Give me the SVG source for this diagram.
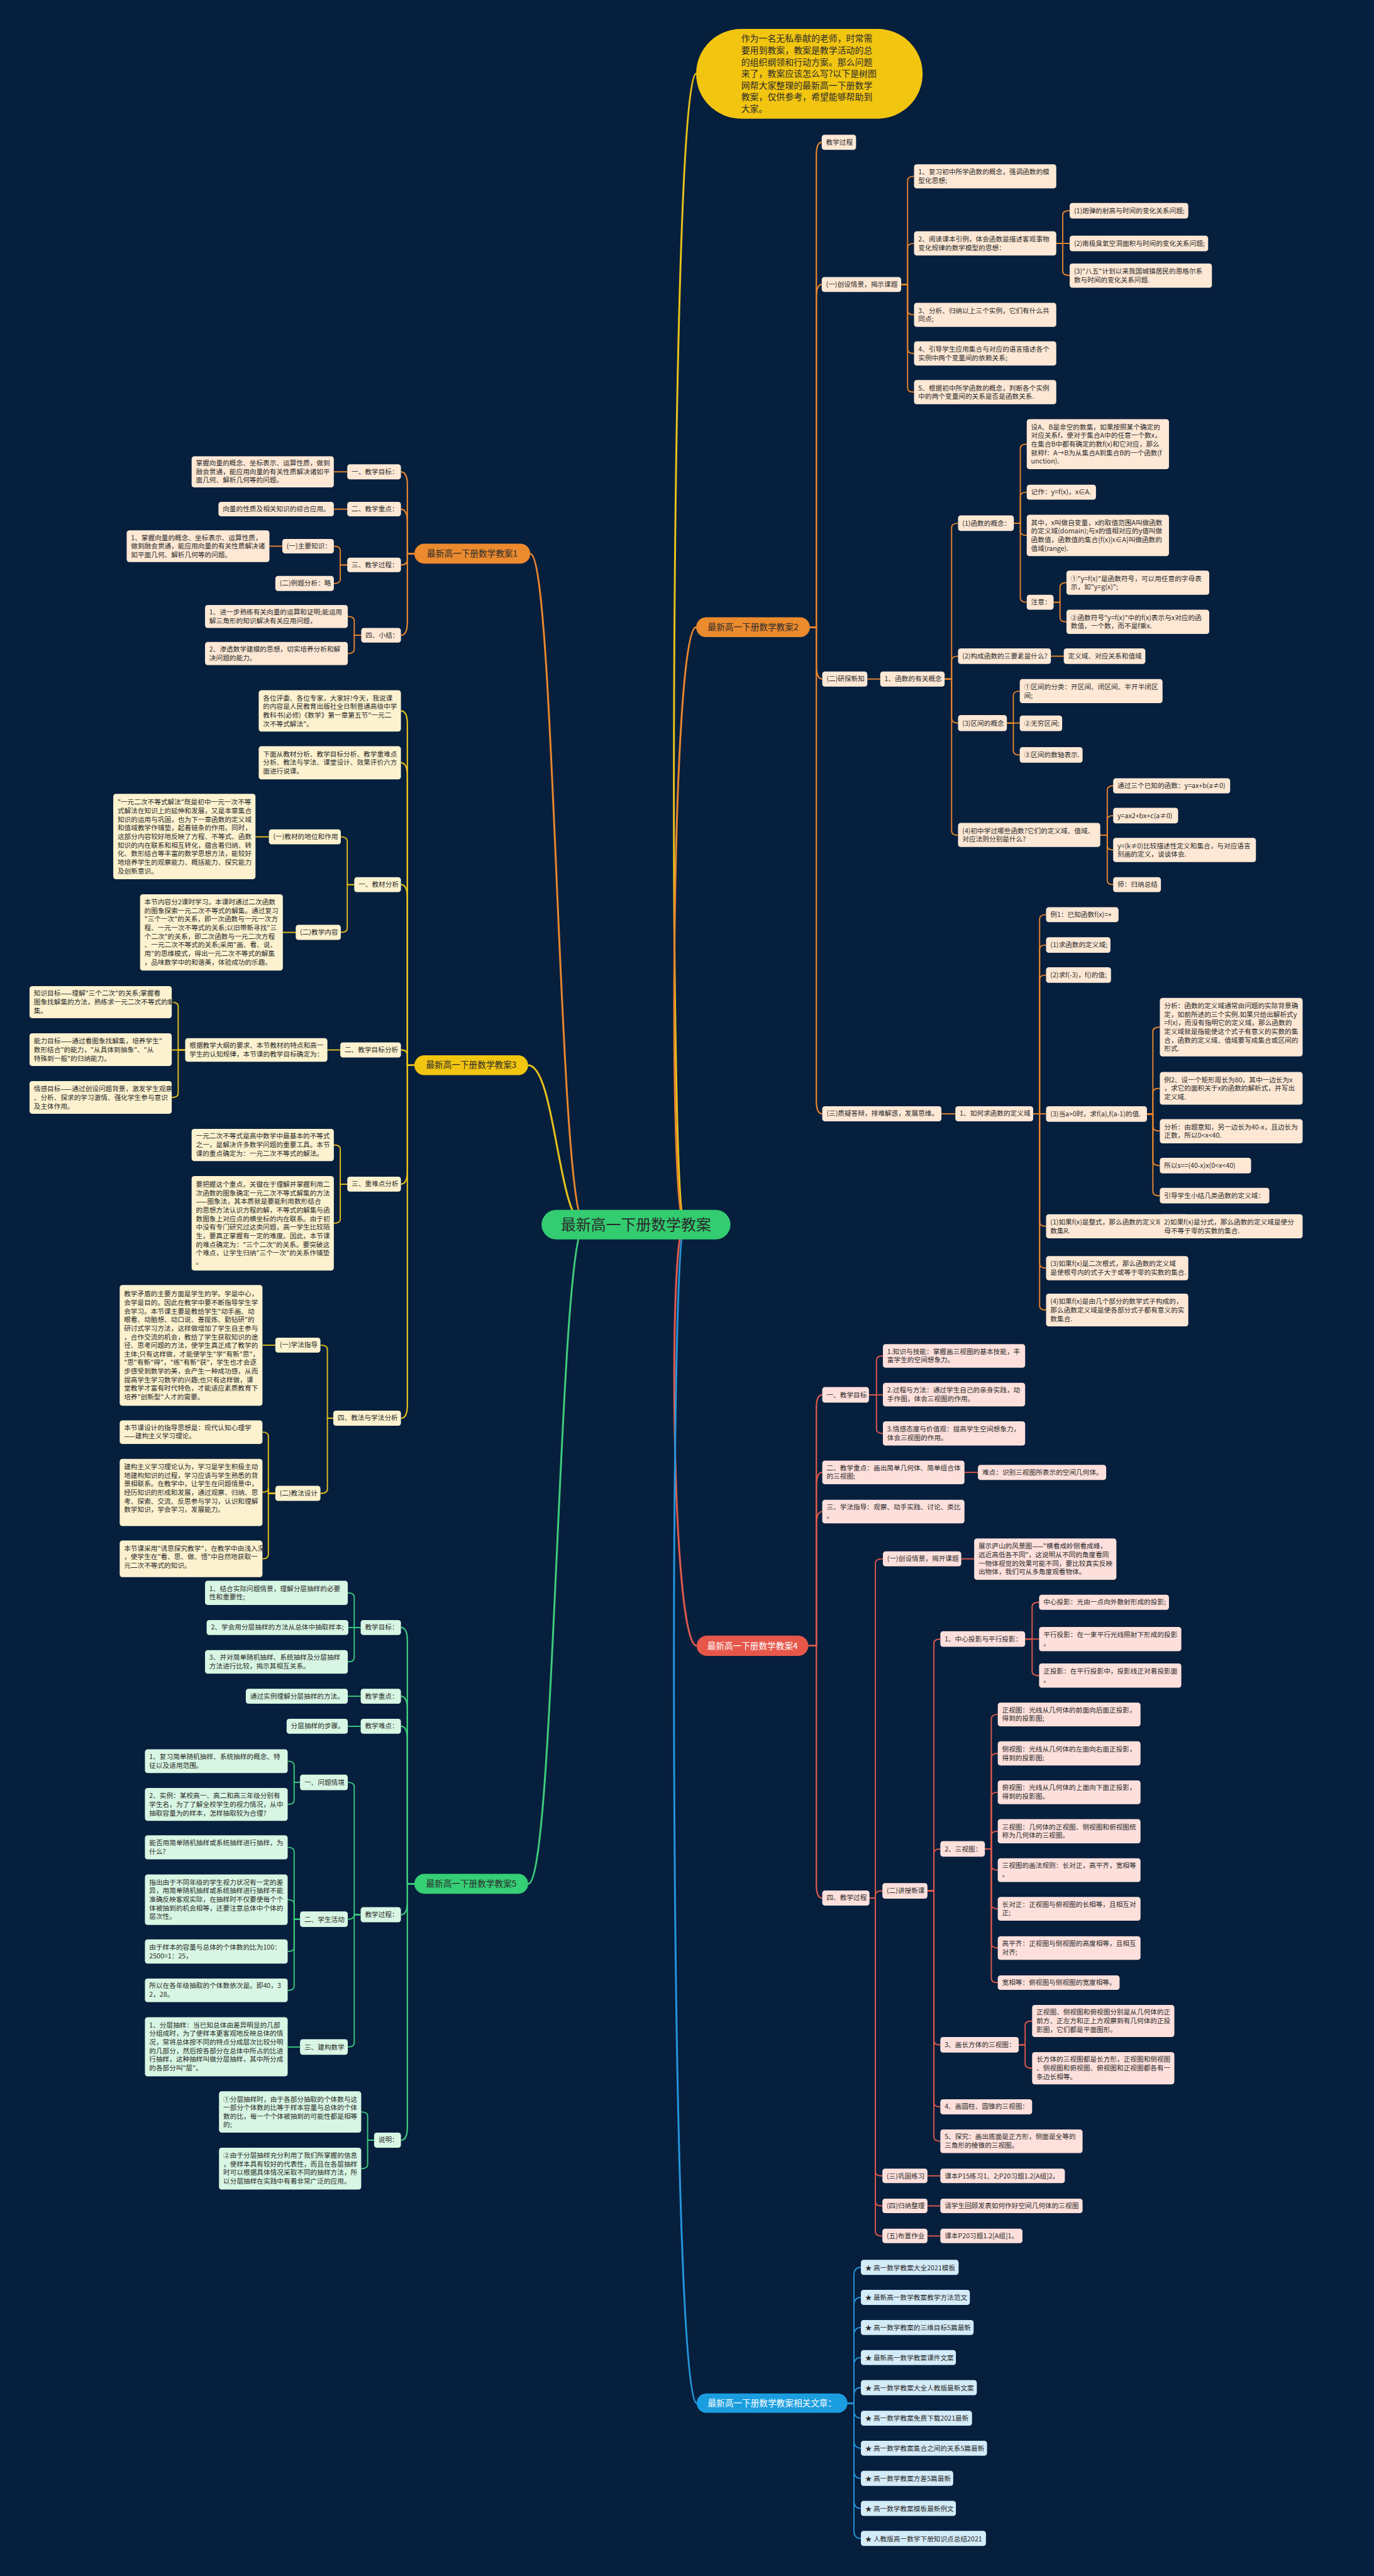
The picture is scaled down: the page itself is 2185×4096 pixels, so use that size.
<svg xmlns="http://www.w3.org/2000/svg" width="2185" height="4096" viewBox="0 0 2185 4096">
<style>
.t{font-family:"Noto Sans CJK SC","Liberation Sans",sans-serif;font-size:12.5px;fill:#2b2b2b}
.bt{font-family:"Noto Sans CJK SC","Liberation Sans",sans-serif;font-size:16px;text-anchor:middle;fill:#2b2b2b}
.wt{fill:#ffffff}
.o{fill:#fde8d5}
.y{fill:#fcf2cf}
.r{fill:#fde0dc}
.g{fill:#d8f6e3}
.b{fill:#d4ebf8}
path{fill:none;stroke-width:2.2}
.lo{stroke:#e8862d}
.ly{stroke:#e9c21a}
.lr{stroke:#e05a4b}
.lg{stroke:#3dcc7c}
.lb{stroke:#2496da}
.m{stroke-width:3.5}
.f{stroke-width:2.6}
</style>
<rect x="0" y="0" width="2185" height="4096" fill="#061f3d"/>
<g transform="scale(0.853516)">
<g id="connectors">
<path class="ly m" d="M1275 2281.5C1245 2281.5 1248 137.5 1297 137.5"/>
<path class="lo m" d="M1275 2281.5C1245 2281.5 1250 1168.5 1297 1168.5"/>
<path class="lr m" d="M1275 2281.5C1245 2281.5 1250 3066 1298 3066"/>
<path class="lb m" d="M1275 2281.5C1245 2281.5 1248 4477 1298 4477"/>
<path class="lo m" d="M1090 2281.5C1040 2281.5 1035 1031.5 988 1031.5"/>
<path class="ly m" d="M1090 2281.5C1040 2281.5 1035 1984.5 984 1984.5"/>
<path class="lg m" d="M1090 2281.5C1040 2281.5 1035 3509.5 984 3509.5"/>
<path class="lo f" d="M1509 1168.5H1521V290Q1521 265 1531 265"/>
<path class="lo f" d="M1509 1168.5H1521V555Q1521 530 1531 530"/>
<path class="lo f" d="M1509 1168.5H1521V1240Q1521 1265 1532 1265"/>
<path class="lo f" d="M1509 1168.5H1521V2050Q1521 2075 1532 2075"/>
<path class="lo" d="M1679 530H1691V336.5Q1691 328.5 1703 328.5"/>
<path class="lo" d="M1679 530H1691V461.5Q1691 453.5 1703 453.5"/>
<path class="lo" d="M1679 530H1691V578.5Q1691 586.5 1703 586.5"/>
<path class="lo" d="M1679 530H1691V650.5Q1691 658.5 1703 658.5"/>
<path class="lo" d="M1679 530H1691V722.5Q1691 730.5 1703 730.5"/>
<path class="lo" d="M1968 453.5H1980V400.5Q1980 392.5 1993 392.5"/>
<path class="lo" d="M1968 453.5H1993"/>
<path class="lo" d="M1968 453.5H1980V505Q1980 513 1993 513"/>
<path class="lo" d="M1616 1265H1640"/>
<path class="lo" d="M1760 1265H1773V983Q1773 975 1785 975"/>
<path class="lo" d="M1760 1265H1773V1230.5Q1773 1222.5 1785 1222.5"/>
<path class="lo" d="M1760 1265H1773V1339Q1773 1347 1785 1347"/>
<path class="lo" d="M1760 1265H1773V1548Q1773 1556 1785 1556"/>
<path class="lo" d="M1889 975H1901V835.5Q1901 827.5 1913 827.5"/>
<path class="lo" d="M1889 975H1901V925Q1901 917 1913 917"/>
<path class="lo" d="M1889 975H1901V989.5Q1901 997.5 1913 997.5"/>
<path class="lo" d="M1889 975H1901V1114Q1901 1122 1913 1122"/>
<path class="lo" d="M1963 1122H1975V1093.5Q1975 1085.5 1987 1085.5"/>
<path class="lo" d="M1963 1122H1975V1150.5Q1975 1158.5 1987 1158.5"/>
<path class="lo" d="M1958 1222.5H1982"/>
<path class="lo" d="M1876 1347H1888V1295.5Q1888 1287.5 1900 1287.5"/>
<path class="lo" d="M1876 1347H1900"/>
<path class="lo" d="M1876 1347H1888V1398.5Q1888 1406.5 1900 1406.5"/>
<path class="lo" d="M2050 1556H2063V1472Q2063 1464 2074 1464"/>
<path class="lo" d="M2050 1556H2063V1527.5Q2063 1519.5 2074 1519.5"/>
<path class="lo" d="M2050 1556H2063V1575.5Q2063 1583.5 2074 1583.5"/>
<path class="lo" d="M2050 1556H2063V1640Q2063 1648 2074 1648"/>
<path class="lo" d="M1754 2075H1780"/>
<path class="lo" d="M1925 2075H1937V1712Q1937 1704 1949 1704"/>
<path class="lo" d="M1925 2075H1937V1768.5Q1937 1760.5 1949 1760.5"/>
<path class="lo" d="M1925 2075H1937V1824.5Q1937 1816.5 1949 1816.5"/>
<path class="lo" d="M1925 2075H1949"/>
<path class="lo" d="M1925 2075H1937V2276.5Q1937 2284.5 1949 2284.5"/>
<path class="lo" d="M1925 2075H1937V2354.5Q1937 2362.5 1949 2362.5"/>
<path class="lo" d="M1925 2075H1937V2432.5Q1937 2440.5 1949 2440.5"/>
<path class="lo" d="M2214 2284.5H2161"/>
<path class="lo" d="M2137 2075.5H2148V1921.5Q2148 1913.5 2161 1913.5"/>
<path class="lo" d="M2137 2075.5H2148V2035.5Q2148 2027.5 2161 2027.5"/>
<path class="lo" d="M2137 2075.5H2148V2099Q2148 2107 2161 2107"/>
<path class="lo" d="M2137 2075.5H2148V2163.5Q2148 2171.5 2161 2171.5"/>
<path class="lo" d="M2137 2075.5H2148V2219.5Q2148 2227.5 2161 2227.5"/>
<path class="lo f" d="M772 1031.5H759V904Q759 879 747 879"/>
<path class="lo f" d="M772 1031.5H759V973.5Q759 948.5 747 948.5"/>
<path class="lo f" d="M772 1031.5H759V1042.5Q759 1052.5 747 1052.5"/>
<path class="lo f" d="M772 1031.5H759V1158.5Q759 1183.5 747 1183.5"/>
<path class="lo" d="M647 879H622"/>
<path class="lo" d="M647 948.5H622"/>
<path class="lo" d="M647 1052.5H634V1025.5Q634 1017.5 622 1017.5"/>
<path class="lo" d="M647 1052.5H634V1079Q634 1087 622 1087"/>
<path class="lo" d="M526 1017.5H502"/>
<path class="lo" d="M673 1183.5H660V1156.5Q660 1148.5 648 1148.5"/>
<path class="lo" d="M673 1183.5H660V1209.5Q660 1217.5 648 1217.5"/>
<path class="ly f" d="M772 1984.5H759V1349.5Q759 1324.5 747 1324.5"/>
<path class="ly f" d="M772 1984.5H759V1446Q759 1421 747 1421"/>
<path class="ly f" d="M772 1984.5H759V1673Q759 1648 747 1648"/>
<path class="ly f" d="M772 1984.5H759V1966Q759 1956 747 1956"/>
<path class="ly f" d="M772 1984.5H759V2181Q759 2206 747 2206"/>
<path class="ly f" d="M772 1984.5H759V2617Q759 2642 747 2642"/>
<path class="ly" d="M660 1648H647V1567Q647 1559 635 1559"/>
<path class="ly" d="M660 1648H647V1729Q647 1737 635 1737"/>
<path class="ly" d="M501 1559H476"/>
<path class="ly" d="M551 1737H527"/>
<path class="ly" d="M634 1956H610"/>
<path class="ly" d="M345 1956H332V1875Q332 1867 320 1867"/>
<path class="ly" d="M345 1956H320"/>
<path class="ly" d="M345 1956H332V2036.5Q332 2044.5 320 2044.5"/>
<path class="ly" d="M647 2206H634V2141Q634 2133 622 2133"/>
<path class="ly" d="M647 2206H634V2271Q634 2279 622 2279"/>
<path class="ly" d="M621 2642H610V2514Q610 2506 597 2506"/>
<path class="ly" d="M621 2642H610V2774Q610 2782 597 2782"/>
<path class="ly" d="M513 2506H489"/>
<path class="ly" d="M513 2782H500V2676Q500 2668 489 2668"/>
<path class="ly" d="M513 2782H500V2772Q500 2780 489 2780"/>
<path class="ly" d="M513 2782H500V2896Q500 2904 489 2904"/>
<path class="lr f" d="M1506 3066H1521V2623.5Q1521 2598.5 1532 2598.5"/>
<path class="lr f" d="M1506 3066H1521V2768Q1521 2743 1532 2743"/>
<path class="lr f" d="M1506 3066H1521V2841Q1521 2816 1532 2816"/>
<path class="lr f" d="M1506 3066H1521V3511Q1521 3536 1532 3536"/>
<path class="lr" d="M1619 2598.5H1633V2534Q1633 2526 1645 2526"/>
<path class="lr" d="M1619 2598.5H1645"/>
<path class="lr" d="M1619 2598.5H1633V2662.5Q1633 2670.5 1645 2670.5"/>
<path class="lr" d="M1797 2743H1822"/>
<path class="lr" d="M1620 3536H1631V2912Q1631 2904 1645 2904"/>
<path class="lr" d="M1620 3536H1631V3530.5Q1631 3522.5 1644 3522.5"/>
<path class="lr" d="M1620 3536H1631V4045.5Q1631 4053.5 1644 4053.5"/>
<path class="lr" d="M1620 3536H1631V4101.5Q1631 4109.5 1644 4109.5"/>
<path class="lr" d="M1620 3536H1631V4157.5Q1631 4165.5 1644 4165.5"/>
<path class="lr" d="M1791 2904H1815"/>
<path class="lr" d="M1728 3522.5H1740V3061.5Q1740 3053.5 1752 3053.5"/>
<path class="lr" d="M1728 3522.5H1740V3452.5Q1740 3444.5 1752 3444.5"/>
<path class="lr" d="M1728 3522.5H1740V3801.5Q1740 3809.5 1752 3809.5"/>
<path class="lr" d="M1728 3522.5H1740V3917Q1740 3925 1752 3925"/>
<path class="lr" d="M1728 3522.5H1740V3981Q1740 3989 1752 3989"/>
<path class="lr" d="M1910 3053.5H1923V2993Q1923 2985 1936 2985"/>
<path class="lr" d="M1910 3053.5H1936"/>
<path class="lr" d="M1910 3053.5H1923V3113.5Q1923 3121.5 1936 3121.5"/>
<path class="lr" d="M1835 3444.5H1847V3202Q1847 3194 1859 3194"/>
<path class="lr" d="M1835 3444.5H1847V3274.5Q1847 3266.5 1859 3266.5"/>
<path class="lr" d="M1835 3444.5H1847V3347Q1847 3339 1859 3339"/>
<path class="lr" d="M1835 3444.5H1847V3419.5Q1847 3411.5 1859 3411.5"/>
<path class="lr" d="M1835 3444.5H1847V3476Q1847 3484 1859 3484"/>
<path class="lr" d="M1835 3444.5H1847V3548Q1847 3556 1859 3556"/>
<path class="lr" d="M1835 3444.5H1847V3621Q1847 3629 1859 3629"/>
<path class="lr" d="M1835 3444.5H1847V3685.5Q1847 3693.5 1859 3693.5"/>
<path class="lr" d="M1898 3809.5H1910V3773Q1910 3765 1923 3765"/>
<path class="lr" d="M1898 3809.5H1910V3845Q1910 3853 1923 3853"/>
<path class="lr" d="M1728 4053.5H1752"/>
<path class="lr" d="M1728 4109.5H1752"/>
<path class="lr" d="M1728 4165.5H1752"/>
<path class="lg f" d="M772 3509.5H759V3057Q759 3032 747 3032"/>
<path class="lg f" d="M772 3509.5H759V3185Q759 3160 747 3160"/>
<path class="lg f" d="M772 3509.5H759V3241Q759 3216 747 3216"/>
<path class="lg f" d="M772 3509.5H759V3542Q759 3567 747 3567"/>
<path class="lg f" d="M772 3509.5H759V3962Q759 3987 747 3987"/>
<path class="lg" d="M672 3032H660V2975.5Q660 2967.5 648 2967.5"/>
<path class="lg" d="M672 3032H649"/>
<path class="lg" d="M672 3032H660V3088Q660 3096 648 3096"/>
<path class="lg" d="M672 3160H648"/>
<path class="lg" d="M672 3216H648"/>
<path class="lg" d="M672 3567H660V3328.5Q660 3320.5 648 3320.5"/>
<path class="lg" d="M672 3567H660Q660 3575.5 648 3575.5"/>
<path class="lg" d="M672 3567H660V3805.5Q660 3813.5 648 3813.5"/>
<path class="lg" d="M559 3320.5H548V3289Q548 3281 536 3281"/>
<path class="lg" d="M559 3320.5H548V3353.5Q548 3361.5 536 3361.5"/>
<path class="lg" d="M559 3575.5H548V3449.5Q548 3441.5 536 3441.5"/>
<path class="lg" d="M559 3575.5H548V3547Q548 3539 536 3539"/>
<path class="lg" d="M559 3575.5H548V3627.5Q548 3635.5 536 3635.5"/>
<path class="lg" d="M559 3575.5H548V3700Q548 3708 536 3708"/>
<path class="lg" d="M559 3813.5H536"/>
<path class="lg" d="M697 3987H685V3942.5Q685 3934.5 673 3934.5"/>
<path class="lg" d="M697 3987H685V4032Q685 4040 673 4040"/>
<path class="lb" d="M1579 4477H1591V4239Q1591 4224 1604 4224"/>
<path class="lb" d="M1579 4477H1591V4295Q1591 4280 1604 4280"/>
<path class="lb" d="M1579 4477H1591V4351Q1591 4336 1604 4336"/>
<path class="lb" d="M1579 4477H1591V4407Q1591 4392 1604 4392"/>
<path class="lb" d="M1579 4477H1591V4463Q1591 4448 1604 4448"/>
<path class="lb" d="M1579 4477H1591V4490Q1591 4505 1604 4505"/>
<path class="lb" d="M1579 4477H1591V4546Q1591 4561 1604 4561"/>
<path class="lb" d="M1579 4477H1591V4602Q1591 4617 1604 4617"/>
<path class="lb" d="M1579 4477H1591V4658Q1591 4673 1604 4673"/>
<path class="lb" d="M1579 4477H1591V4714Q1591 4729 1604 4729"/>
</g>

<g id="intro"><rect x="1297" y="54" width="422" height="167" rx="83.5" fill="#f2c511"/>
<text class="t" style="font-size:16.3px"><tspan x="1381" y="77.8">作为一名无私奉献的老师，时常需</tspan><tspan x="1381" y="99.6">要用到教案，教案是教学活动的总</tspan><tspan x="1381" y="121.4">的组织纲领和行动方案。那么问题</tspan><tspan x="1381" y="143.2">来了，教案应该怎么写?以下是树图</tspan><tspan x="1381" y="165">网帮大家整理的最新高一下册数学</tspan><tspan x="1381" y="186.8">教案，仅供参考，希望能够帮助到</tspan><tspan x="1381" y="208.6">大家。</tspan></text></g>
<g id="center"><rect x="1009" y="2254" width="352" height="55" rx="27.5" fill="#33cc70"/><text class="bt" style="font-size:28px" x="1185" y="2291.5">最新高一下册数学教案</text></g>
<g id="b1"><rect x="772" y="1013" width="216" height="37" rx="18.5" fill="#ec8a2e"/><text class="bt" x="880" y="1037">最新高一下册数学教案1</text></g>
<g id="b2"><rect x="1297" y="1150" width="212" height="37" rx="18.5" fill="#ec8a2e"/><text class="bt" x="1403" y="1174">最新高一下册数学教案2</text></g>
<g id="b3"><rect x="772" y="1966" width="212" height="37" rx="18.5" fill="#f2c511"/><text class="bt" x="878" y="1990">最新高一下册数学教案3</text></g>
<g id="b4"><rect x="1298" y="3047" width="208" height="38" rx="19" fill="#e6574a"/><text class="bt wt" x="1402" y="3071.6">最新高一下册数学教案4</text></g>
<g id="b5"><rect x="772" y="3491" width="212" height="37" rx="18.5" fill="#35cf76"/><text class="bt" x="878" y="3515">最新高一下册数学教案5</text></g>
<g id="b6"><rect x="1298" y="4459" width="281" height="36" rx="18" fill="#1a9ee0"/><text class="bt wt" x="1438.5" y="4482.6">最新高一下册数学教案相关文章：</text></g>

<g id="s2a"><rect class="o" x="1531" y="251" width="64" height="28" rx="5"/><text class="t" x="1539" y="269">教学过程</text></g>
<g id="s2b"><rect class="o" x="1531" y="516" width="148" height="28" rx="5"/><text class="t" x="1539" y="534">(一)创设情景，揭示课题</text></g>
<g id="s2b1"><rect class="o" x="1703" y="306" width="265" height="45" rx="5"/><text class="t"><tspan x="1711" y="325">1、复习初中所学函数的概念，强调函数的模</tspan><tspan x="1711" y="341">型化思想;</tspan></text></g>
<g id="s2b2"><rect class="o" x="1703" y="431" width="265" height="45" rx="5"/><text class="t"><tspan x="1711" y="450">2、阅读课本引例，体会函数是描述客观事物</tspan><tspan x="1711" y="466">变化规律的数学模型的思想：</tspan></text></g>
<g id="s2b3"><rect class="o" x="1703" y="564" width="265" height="45" rx="5"/><text class="t"><tspan x="1711" y="583">3、分析、归纳以上三个实例，它们有什么共</tspan><tspan x="1711" y="599">同点;</tspan></text></g>
<g id="s2b4"><rect class="o" x="1703" y="636" width="265" height="45" rx="5"/><text class="t"><tspan x="1711" y="655">4、引导学生应用集合与对应的语言描述各个</tspan><tspan x="1711" y="671">实例中两个变量间的依赖关系;</tspan></text></g>
<g id="s2b5"><rect class="o" x="1703" y="708" width="265" height="45" rx="5"/><text class="t"><tspan x="1711" y="727">5、根据初中所学函数的概念，判断各个实例</tspan><tspan x="1711" y="743">中的两个变量间的关系是否是函数关系.</tspan></text></g>
<g id="s2b2a"><rect class="o" x="1993" y="378" width="221" height="29" rx="5"/><text class="t" x="2001" y="397">(1)炮弹的射高与时间的变化关系问题;</text></g>
<g id="s2b2b"><rect class="o" x="1993" y="439" width="258" height="29" rx="5"/><text class="t" x="2001" y="458">(2)南极臭氧空洞面积与时间的变化关系问题;</text></g>
<g id="s2b2c"><rect class="o" x="1993" y="491" width="265" height="45" rx="5"/><text class="t"><tspan x="2001" y="510">(3)"八五"计划以来我国城镇居民的恩格尔系</tspan><tspan x="2001" y="526">数与时间的变化关系问题.</tspan></text></g>
<g id="s2c"><rect class="o" x="1532" y="1251" width="84" height="28" rx="5"/><text class="t" x="1540" y="1269">(二)研探新知</text></g>
<g id="s2c1"><rect class="o" x="1640" y="1251" width="120" height="28" rx="5"/><text class="t" x="1648" y="1269">1、函数的有关概念</text></g>
<g id="s2c1a"><rect class="o" x="1785" y="960" width="104" height="29" rx="5"/><text class="t" x="1793" y="979">(1)函数的概念：</text></g>
<g id="s2c1a1"><rect class="o" x="1913" y="781" width="265" height="93" rx="5"/><text class="t"><tspan x="1921" y="800">设A、B是非空的数集，如果按照某个确定的</tspan><tspan x="1921" y="816">对应关系f，使对于集合A中的任意一个数x，</tspan><tspan x="1921" y="832">在集合B中都有确定的数f(x)和它对应，那么</tspan><tspan x="1921" y="848">就称f：A→B为从集合A到集合B的一个函数(f</tspan><tspan x="1921" y="864">unction).</tspan></text></g>
<g id="s2c1a2"><rect class="o" x="1913" y="903" width="129" height="28" rx="5"/><text class="t" x="1921" y="921">记作：y=f(x)，x∈A.</text></g>
<g id="s2c1a3"><rect class="o" x="1913" y="959" width="265" height="77" rx="5"/><text class="t"><tspan x="1921" y="978">其中，x叫做自变量，x的取值范围A叫做函数</tspan><tspan x="1921" y="994">的定义域(domain);与x的值相对应的y值叫做</tspan><tspan x="1921" y="1010">函数值，函数值的集合{f(x)|x∈A}叫做函数的</tspan><tspan x="1921" y="1026">值域(range).</tspan></text></g>
<g id="s2c1a4"><rect class="o" x="1913" y="1108" width="50" height="28" rx="5"/><text class="t" x="1921" y="1126">注意：</text></g>
<g id="s2c1a4a"><rect class="o" x="1987" y="1063" width="266" height="45" rx="5"/><text class="t"><tspan x="1995" y="1082">①"y=f(x)"是函数符号，可以用任意的字母表</tspan><tspan x="1995" y="1098">示，如"y=g(x)";</tspan></text></g>
<g id="s2c1a4b"><rect class="o" x="1987" y="1136" width="266" height="45" rx="5"/><text class="t"><tspan x="1995" y="1155">②函数符号"y=f(x)"中的f(x)表示与x对应的函</tspan><tspan x="1995" y="1171">数值，一个数，而不是f乘x.</tspan></text></g>
<g id="s2c1b"><rect class="o" x="1785" y="1208" width="173" height="29" rx="5"/><text class="t" x="1793" y="1227">(2)构成函数的三要素是什么?</text></g>
<g id="s2c1b1"><rect class="o" x="1982" y="1208" width="152" height="29" rx="5"/><text class="t" x="1990" y="1227">定义域、对应关系和值域</text></g>
<g id="s2c1c"><rect class="o" x="1785" y="1332" width="91" height="30" rx="5"/><text class="t" x="1793" y="1351.5">(3)区间的概念</text></g>
<g id="s2c1c1"><rect class="o" x="1900" y="1265" width="266" height="45" rx="5"/><text class="t"><tspan x="1908" y="1284">①区间的分类：开区间、闭区间、半开半闭区</tspan><tspan x="1908" y="1300">间;</tspan></text></g>
<g id="s2c1c2"><rect class="o" x="1900" y="1333" width="79" height="29" rx="5"/><text class="t" x="1908" y="1352">②无穷区间;</text></g>
<g id="s2c1c3"><rect class="o" x="1900" y="1392" width="117" height="29" rx="5"/><text class="t" x="1908" y="1411">③区间的数轴表示.</text></g>
<g id="s2c1d"><rect class="o" x="1785" y="1533" width="265" height="45" rx="5"/><text class="t"><tspan x="1793" y="1552">(4)初中学过哪些函数?它们的定义域、值域、</tspan><tspan x="1793" y="1568">对应法则分别是什么?</tspan></text></g>
<g id="s2c1d1"><rect class="o" x="2074" y="1450" width="218" height="28" rx="5"/><text class="t" x="2082" y="1468">通过三个已知的函数：y=ax+b(a≠0)</text></g>
<g id="s2c1d2"><rect class="o" x="2074" y="1505" width="121" height="29" rx="5"/><text class="t" x="2082" y="1524">y=ax2+bx+c(a≠0)</text></g>
<g id="s2c1d3"><rect class="o" x="2074" y="1561" width="266" height="45" rx="5"/><text class="t"><tspan x="2082" y="1580">y=(k≠0)比较描述性定义和集合，与对应语言</tspan><tspan x="2082" y="1596">刻画的定义，谈谈体会.</tspan></text></g>
<g id="s2c1d4"><rect class="o" x="2074" y="1634" width="89" height="28" rx="5"/><text class="t" x="2082" y="1652">师：归纳总结</text></g>
<g id="s2d"><rect class="o" x="1532" y="2061" width="222" height="28" rx="5"/><text class="t" x="1540" y="2079">(三)质疑答辩，排难解惑，发展思维。</text></g>
<g id="s2d1"><rect class="o" x="1780" y="2061" width="145" height="28" rx="5"/><text class="t" x="1788" y="2079">1、如何求函数的定义域</text></g>
<g id="s2d1a"><rect class="o" x="1949" y="1690" width="135" height="28" rx="5"/><text class="t" x="1957" y="1708">例1：已知函数f(x)=+</text></g>
<g id="s2d1b"><rect class="o" x="1949" y="1746" width="120" height="29" rx="5"/><text class="t" x="1957" y="1765">(1)求函数的定义域;</text></g>
<g id="s2d1c"><rect class="o" x="1949" y="1802" width="121" height="29" rx="5"/><text class="t" x="1957" y="1821">(2)求f(-3)，f()的值;</text></g>
<g id="s2d1d"><rect class="o" x="1949" y="2061" width="188" height="29" rx="5"/><text class="t" x="1957" y="2080">(3)当a&gt;0时，求f(a),f(a-1)的值.</text></g>
<g id="s2d1d1"><rect class="o" x="2161" y="1859" width="266" height="109" rx="5"/><text class="t"><tspan x="2169" y="1878">分析：函数的定义域通常由问题的实际背景确</tspan><tspan x="2169" y="1894">定，如前所述的三个实例.如果只给出解析式y</tspan><tspan x="2169" y="1910">=f(x)，而没有指明它的定义域，那么函数的</tspan><tspan x="2169" y="1926">定义域就是指能使这个式子有意义的实数的集</tspan><tspan x="2169" y="1942">合，函数的定义域、值域要写成集合或区间的</tspan><tspan x="2169" y="1958">形式.</tspan></text></g>
<g id="s2d1d2"><rect class="o" x="2161" y="1997" width="266" height="61" rx="5"/><text class="t"><tspan x="2169" y="2016">例2、设一个矩形周长为80，其中一边长为x</tspan><tspan x="2169" y="2032">，求它的面积关于x的函数的解析式，并写出</tspan><tspan x="2169" y="2048">定义域.</tspan></text></g>
<g id="s2d1d3"><rect class="o" x="2161" y="2085" width="266" height="45" rx="5"/><text class="t"><tspan x="2169" y="2104">分析：由题意知，另一边长为40-x，且边长为</tspan><tspan x="2169" y="2120">正数，所以0&lt;x&lt;40.</tspan></text></g>
<g id="s2d1d4"><rect class="o" x="2161" y="2157" width="170" height="29" rx="5"/><text class="t" x="2169" y="2176">所以s==(40-x)x(0&lt;x&lt;40)</text></g>
<g id="s2d1d5"><rect class="o" x="2161" y="2213" width="204" height="29" rx="5"/><text class="t" x="2169" y="2232">引导学生小结几类函数的定义域：</text></g>
<g id="s2d1e"><rect class="o" x="1949" y="2262" width="265" height="45" rx="5"/><text class="t"><tspan x="1957" y="2281">(1)如果f(x)是整式，那么函数的定义域是实</tspan><tspan x="1957" y="2297">数集R.</tspan></text></g>
<g id="s2d1e1"><rect class="o" x="2161" y="2262" width="266" height="45" rx="5"/><text class="t"><tspan x="2169" y="2281">2)如果f(x)是分式，那么函数的定义域是使分</tspan><tspan x="2169" y="2297">母不等于零的实数的集合.</tspan></text></g>
<g id="s2d1f"><rect class="o" x="1949" y="2340" width="265" height="45" rx="5"/><text class="t"><tspan x="1957" y="2359">(3)如果f(x)是二次根式，那么函数的定义域</tspan><tspan x="1957" y="2375">是使根号内的式子大于或等于零的实数的集合.</tspan></text></g>
<g id="s2d1g"><rect class="o" x="1949" y="2410" width="265" height="61" rx="5"/><text class="t"><tspan x="1957" y="2429">(4)如果f(x)是由几个部分的数学式子构成的，</tspan><tspan x="1957" y="2445">那么函数定义域是使各部分式子都有意义的实</tspan><tspan x="1957" y="2461">数集合.</tspan></text></g>

<g id="s1a"><rect class="o" x="647" y="865" width="100" height="28" rx="5"/><text class="t" x="655" y="883">一、教学目标：</text></g>
<g id="s1b"><rect class="o" x="647" y="935" width="100" height="27" rx="5"/><text class="t" x="655" y="953">二、教学重点：</text></g>
<g id="s1c"><rect class="o" x="647" y="1039" width="100" height="27" rx="5"/><text class="t" x="655" y="1057">三、教学过程：</text></g>
<g id="s1d"><rect class="o" x="673" y="1170" width="74" height="27" rx="5"/><text class="t" x="681" y="1188">四、小结：</text></g>
<g id="s1a1"><rect class="o" x="357" y="850" width="265" height="58" rx="5"/><text class="t"><tspan x="365" y="867">掌握向量的概念、坐标表示、运算性质，做到</tspan><tspan x="365" y="883">融会贯通，能应用向量的有关性质解决诸如平</tspan><tspan x="365" y="899">面几何、解析几何等的问题。</tspan></text></g>
<g id="s1b1"><rect class="o" x="407" y="935" width="215" height="27" rx="5"/><text class="t" x="415" y="953">向量的性质及相关知识的综合应用。</text></g>
<g id="s1c1"><rect class="o" x="526" y="1004" width="96" height="27" rx="5"/><text class="t" x="534" y="1022">(一)主要知识：</text></g>
<g id="s1c1a"><rect class="o" x="236" y="988" width="266" height="59" rx="5"/><text class="t"><tspan x="244" y="1006">1、掌握向量的概念、坐标表示、运算性质，</tspan><tspan x="244" y="1022">做到融会贯通，能应用向量的有关性质解决诸</tspan><tspan x="244" y="1038">如平面几何、解析几何等的问题。</tspan></text></g>
<g id="s1c2"><rect class="o" x="513" y="1073" width="109" height="28" rx="5"/><text class="t" x="521" y="1091">(二)例题分析：略</text></g>
<g id="s1d1"><rect class="o" x="382" y="1127" width="266" height="43" rx="5"/><text class="t"><tspan x="390" y="1145">1、进一步熟练有关向量的运算和证明;能运用</tspan><tspan x="390" y="1161">解三角形的知识解决有关应用问题，</tspan></text></g>
<g id="s1d2"><rect class="o" x="382" y="1196" width="266" height="43" rx="5"/><text class="t"><tspan x="390" y="1214">2、渗透数学建模的思想，切实培养分析和解</tspan><tspan x="390" y="1230">决问题的能力。</tspan></text></g>

<g id="s3a"><rect class="y" x="482" y="1286" width="265" height="77" rx="5"/><text class="t"><tspan x="490" y="1305">各位评委、各位专家，大家好!今天，我说课</tspan><tspan x="490" y="1321">的内容是人民教育出版社全日制普通高级中学</tspan><tspan x="490" y="1337">教科书(必修)《数学》第一章第五节"一元二</tspan><tspan x="490" y="1353">次不等式解法"。</tspan></text></g>
<g id="s3b"><rect class="y" x="482" y="1390" width="265" height="62" rx="5"/><text class="t"><tspan x="490" y="1409">下面从教材分析、教学目标分析、教学重难点</tspan><tspan x="490" y="1425">分析、教法与学法、课堂设计、效果评价六方</tspan><tspan x="490" y="1441">面进行说课。</tspan></text></g>
<g id="s3c"><rect class="y" x="660" y="1634" width="87" height="28" rx="5"/><text class="t" x="668" y="1652">一、教材分析</text></g>
<g id="s3c1"><rect class="y" x="501" y="1545" width="134" height="28" rx="5"/><text class="t" x="509" y="1563">(一)教材的地位和作用</text></g>
<g id="s3c1a"><rect class="y" x="211" y="1479" width="265" height="159" rx="5"/><text class="t"><tspan x="219" y="1499">"一元二次不等式解法"既是初中一元一次不等</tspan><tspan x="219" y="1515">式解法在知识上的延伸和发展，又是本章集合</tspan><tspan x="219" y="1531">知识的运用与巩固，也为下一章函数的定义域</tspan><tspan x="219" y="1547">和值域教学作铺垫，起着链条的作用。同时，</tspan><tspan x="219" y="1563">这部分内容较好地反映了方程、不等式、函数</tspan><tspan x="219" y="1579">知识的内在联系和相互转化，蕴含着归纳、转</tspan><tspan x="219" y="1595">化、数形结合等丰富的数学思想方法，能较好</tspan><tspan x="219" y="1611">地培养学生的观察能力、概括能力、探究能力</tspan><tspan x="219" y="1627">及创新意识。</tspan></text></g>
<g id="s3c2"><rect class="y" x="551" y="1723" width="84" height="28" rx="5"/><text class="t" x="559" y="1741">(二)教学内容</text></g>
<g id="s3c2a"><rect class="y" x="261" y="1666" width="266" height="142" rx="5"/><text class="t"><tspan x="269" y="1685">本节内容分2课时学习。本课时通过二次函数</tspan><tspan x="269" y="1701">的图象探索一元二次不等式的解集。通过复习</tspan><tspan x="269" y="1717">"三个一次"的关系，即一次函数与一元一次方</tspan><tspan x="269" y="1733">程、一元一次不等式的关系;以旧带新寻找"三</tspan><tspan x="269" y="1749">个二次"的关系，即二次函数与一元二次方程</tspan><tspan x="269" y="1765">、一元二次不等式的关系;采用"画、看、说、</tspan><tspan x="269" y="1781">用"的思维模式，得出一元二次不等式的解集</tspan><tspan x="269" y="1797">，品味数学中的和谐美，体验成功的乐趣。</tspan></text></g>
<g id="s3d"><rect class="y" x="634" y="1942" width="113" height="28" rx="5"/><text class="t" x="642" y="1960">二、教学目标分析</text></g>
<g id="s3d1"><rect class="y" x="345" y="1934" width="265" height="44" rx="5"/><text class="t"><tspan x="353" y="1952">根据教学大纲的要求、本节教材的特点和高一</tspan><tspan x="353" y="1968">学生的认知规律，本节课的教学目标确定为：</tspan></text></g>
<g id="s3d1a"><rect class="y" x="55" y="1837" width="265" height="60" rx="5"/><text class="t"><tspan x="63" y="1855">知识目标——理解"三个二次"的关系;掌握看</tspan><tspan x="63" y="1871">图象找解集的方法，熟练求一元二次不等式的解</tspan><tspan x="63" y="1887">集。</tspan></text></g>
<g id="s3d1b"><rect class="y" x="55" y="1925" width="265" height="61" rx="5"/><text class="t"><tspan x="63" y="1944">能力目标——通过看图象找解集，培养学生"</tspan><tspan x="63" y="1960">数形结合"的能力，"从具体到抽象"、"从</tspan><tspan x="63" y="1976">特殊到一般"的归纳能力。</tspan></text></g>
<g id="s3d1c"><rect class="y" x="55" y="2014" width="265" height="61" rx="5"/><text class="t"><tspan x="63" y="2033">情感目标——通过创设问题背景，激发学生观察</tspan><tspan x="63" y="2049">、分析、探求的学习激情、强化学生参与意识</tspan><tspan x="63" y="2065">及主体作用。</tspan></text></g>
<g id="s3e"><rect class="y" x="647" y="2192" width="100" height="28" rx="5"/><text class="t" x="655" y="2210">三、重难点分析</text></g>
<g id="s3e1"><rect class="y" x="357" y="2103" width="265" height="60" rx="5"/><text class="t"><tspan x="365" y="2121">一元二次不等式是高中数学中最基本的不等式</tspan><tspan x="365" y="2137">之一，是解决许多数学问题的重要工具。本节</tspan><tspan x="365" y="2153">课的重点确定为：一元二次不等式的解法。</tspan></text></g>
<g id="s3e2"><rect class="y" x="357" y="2191" width="265" height="176" rx="5"/><text class="t"><tspan x="365" y="2211">要把握这个重点。关键在于理解并掌握利用二</tspan><tspan x="365" y="2227">次函数的图象确定一元二次不等式解集的方法</tspan><tspan x="365" y="2243">——图象法，其本质就是要能利用数形结合</tspan><tspan x="365" y="2259">的思想方法认识方程的解，不等式的解集与函</tspan><tspan x="365" y="2275">数图象上对应点的横坐标的内在联系。由于初</tspan><tspan x="365" y="2291">中没有专门研究过这类问题，高一学生比较陌</tspan><tspan x="365" y="2307">生，要真正掌握有一定的难度。因此，本节课</tspan><tspan x="365" y="2323">的难点确定为："三个二次"的关系。要突破这</tspan><tspan x="365" y="2339">个难点，让学生归纳"三个一次"的关系作铺垫</tspan><tspan x="365" y="2355">。</tspan></text></g>
<g id="s3f"><rect class="y" x="621" y="2628" width="126" height="28" rx="5"/><text class="t" x="629" y="2646">四、教法与学法分析</text></g>
<g id="s3f1"><rect class="y" x="513" y="2492" width="84" height="28" rx="5"/><text class="t" x="521" y="2510">(一)学法指导</text></g>
<g id="s3f1a"><rect class="y" x="223" y="2394" width="266" height="225" rx="5"/><text class="t"><tspan x="231" y="2415">教学矛盾的主要方面是学生的学。学是中心，</tspan><tspan x="231" y="2431">会学是目的。因此在教学中要不断指导学生学</tspan><tspan x="231" y="2447">会学习。本节课主要是教给学生"动手画、动</tspan><tspan x="231" y="2463">眼看、动脑想、动口说、善提炼、勤钻研"的</tspan><tspan x="231" y="2479">研讨式学习方法，这样做增加了学生自主参与</tspan><tspan x="231" y="2495">，合作交流的机会，教给了学生获取知识的途</tspan><tspan x="231" y="2511">径、思考问题的方法，使学生真正成了教学的</tspan><tspan x="231" y="2527">主体;只有这样做，才能使学生"学"有新"思"，</tspan><tspan x="231" y="2543">"思"有新"得"，"练"有新"获"，学生也才会逐</tspan><tspan x="231" y="2559">步感受到数学的美，会产生一种成功感，从而</tspan><tspan x="231" y="2575">提高学生学习数学的兴趣;也只有这样做，课</tspan><tspan x="231" y="2591">堂教学才富有时代特色，才能适应素质教育下</tspan><tspan x="231" y="2607">培养"创新型"人才的需要。</tspan></text></g>
<g id="s3f2"><rect class="y" x="513" y="2768" width="84" height="28" rx="5"/><text class="t" x="521" y="2786">(二)教法设计</text></g>
<g id="s3f2a"><rect class="y" x="223" y="2646" width="266" height="44" rx="5"/><text class="t"><tspan x="231" y="2664">本节课设计的指导思想是：现代认知心理学</tspan><tspan x="231" y="2680">——建构主义学习理论。</tspan></text></g>
<g id="s3f2b"><rect class="y" x="223" y="2718" width="266" height="125" rx="5"/><text class="t"><tspan x="231" y="2737">建构主义学习理论认为，学习是学生积极主动</tspan><tspan x="231" y="2753">地建构知识的过程，学习应该与学生熟悉的背</tspan><tspan x="231" y="2769">景相联系。在教学中，让学生在问题情景中，</tspan><tspan x="231" y="2785">经历知识的形成和发展，通过观察、归纳、思</tspan><tspan x="231" y="2801">考、探索、交流、反思参与学习，认识和理解</tspan><tspan x="231" y="2817">数学知识，学会学习，发展能力。</tspan></text></g>
<g id="s3f2c"><rect class="y" x="223" y="2870" width="266" height="68" rx="5"/><text class="t"><tspan x="231" y="2889">本节课采用"诱思探究教学"，在教学中由浅入深</tspan><tspan x="231" y="2905">，使学生在"看、思、做、悟"中自然地获取一</tspan><tspan x="231" y="2921">元二次不等式的知识。</tspan></text></g>

<g id="s4a"><rect class="r" x="1532" y="2584" width="87" height="29" rx="5"/><text class="t" x="1540" y="2603">一、教学目标</text></g>
<g id="s4a1"><rect class="r" x="1645" y="2504" width="265" height="44" rx="5"/><text class="t"><tspan x="1653" y="2522">1.知识与技能：掌握画三视图的基本技能，丰</tspan><tspan x="1653" y="2538">富学生的空间想象力。</tspan></text></g>
<g id="s4a2"><rect class="r" x="1645" y="2576" width="265" height="44" rx="5"/><text class="t"><tspan x="1653" y="2594">2.过程与方法：通过学生自己的亲身实践，动</tspan><tspan x="1653" y="2610">手作图，体会三视图的作用。</tspan></text></g>
<g id="s4a3"><rect class="r" x="1645" y="2648" width="265" height="45" rx="5"/><text class="t"><tspan x="1653" y="2667">3.情感态度与价值观：提高学生空间想象力，</tspan><tspan x="1653" y="2683">体会三视图的作用。</tspan></text></g>
<g id="s4b"><rect class="r" x="1532" y="2721" width="265" height="44" rx="5"/><text class="t"><tspan x="1540" y="2739">二、教学重点：画出简单几何体、简单组合体</tspan><tspan x="1540" y="2755">的三视图;</tspan></text></g>
<g id="s4b1"><rect class="r" x="1822" y="2729" width="239" height="28" rx="5"/><text class="t" x="1830" y="2747">难点：识别三视图所表示的空间几何体。</text></g>
<g id="s4c"><rect class="r" x="1532" y="2794" width="265" height="44" rx="5"/><text class="t"><tspan x="1540" y="2812">三、学法指导：观察、动手实践、讨论、类比</tspan><tspan x="1540" y="2828">。</tspan></text></g>
<g id="s4d"><rect class="r" x="1532" y="3522" width="88" height="28" rx="5"/><text class="t" x="1540" y="3540">四、教学过程</text></g>
<g id="s4d1"><rect class="r" x="1645" y="2890" width="146" height="28" rx="5"/><text class="t" x="1653" y="2908">(一)创设情景，揭开课题</text></g>
<g id="s4d1a"><rect class="r" x="1815" y="2866" width="265" height="77" rx="5"/><text class="t"><tspan x="1823" y="2885">展示庐山的风景图——"横看成岭侧看成峰，</tspan><tspan x="1823" y="2901">远近高低各不同"，这说明从不同的角度看同</tspan><tspan x="1823" y="2917">一物体视觉的效果可能不同，要比较真实反映</tspan><tspan x="1823" y="2933">出物体，我们可从多角度观看物体。</tspan></text></g>
<g id="s4d2"><rect class="r" x="1644" y="3508" width="84" height="29" rx="5"/><text class="t" x="1652" y="3527">(二)讲授新课</text></g>
<g id="s4d2a"><rect class="r" x="1752" y="3039" width="158" height="29" rx="5"/><text class="t" x="1760" y="3058">1、中心投影与平行投影：</text></g>
<g id="s4d2a1"><rect class="r" x="1936" y="2971" width="242" height="28" rx="5"/><text class="t" x="1944" y="2989">中心投影：光由一点向外散射形成的投影;</text></g>
<g id="s4d2a2"><rect class="r" x="1936" y="3031" width="265" height="45" rx="5"/><text class="t"><tspan x="1944" y="3050">平行投影：在一束平行光线照射下形成的投影</tspan><tspan x="1944" y="3066">。</tspan></text></g>
<g id="s4d2a3"><rect class="r" x="1936" y="3099" width="265" height="45" rx="5"/><text class="t"><tspan x="1944" y="3118">正投影：在平行投影中，投影线正对着投影面</tspan><tspan x="1944" y="3134">。</tspan></text></g>
<g id="s4d2b"><rect class="r" x="1752" y="3430" width="83" height="29" rx="5"/><text class="t" x="1760" y="3449">2、三视图：</text></g>
<g id="s4d2b1"><rect class="r" x="1859" y="3172" width="266" height="44" rx="5"/><text class="t"><tspan x="1867" y="3190">正视图：光线从几何体的前面向后面正投影，</tspan><tspan x="1867" y="3206">得到的投影图;</tspan></text></g>
<g id="s4d2b2"><rect class="r" x="1859" y="3244" width="266" height="45" rx="5"/><text class="t"><tspan x="1867" y="3263">侧视图：光线从几何体的左面向右面正投影，</tspan><tspan x="1867" y="3279">得到的投影图;</tspan></text></g>
<g id="s4d2b3"><rect class="r" x="1859" y="3317" width="266" height="44" rx="5"/><text class="t"><tspan x="1867" y="3335">俯视图：光线从几何体的上面向下面正投影，</tspan><tspan x="1867" y="3351">得到的投影图。</tspan></text></g>
<g id="s4d2b4"><rect class="r" x="1859" y="3389" width="266" height="45" rx="5"/><text class="t"><tspan x="1867" y="3408">三视图：几何体的正视图、侧视图和俯视图统</tspan><tspan x="1867" y="3424">称为几何体的三视图。</tspan></text></g>
<g id="s4d2b5"><rect class="r" x="1859" y="3462" width="266" height="44" rx="5"/><text class="t"><tspan x="1867" y="3480">三视图的画法规则：长对正，高平齐，宽相等</tspan><tspan x="1867" y="3496">。</tspan></text></g>
<g id="s4d2b6"><rect class="r" x="1859" y="3534" width="266" height="44" rx="5"/><text class="t"><tspan x="1867" y="3552">长对正：正视图与俯视图的长相等，且相互对</tspan><tspan x="1867" y="3568">正;</tspan></text></g>
<g id="s4d2b7"><rect class="r" x="1859" y="3607" width="266" height="44" rx="5"/><text class="t"><tspan x="1867" y="3625">高平齐：正视图与侧视图的高度相等，且相互</tspan><tspan x="1867" y="3641">对齐;</tspan></text></g>
<g id="s4d2b8"><rect class="r" x="1859" y="3680" width="227" height="27" rx="5"/><text class="t" x="1867" y="3698">宽相等：俯视图与侧视图的宽度相等。</text></g>
<g id="s4d2c"><rect class="r" x="1752" y="3795" width="146" height="29" rx="5"/><text class="t" x="1760" y="3814">3、画长方体的三视图：</text></g>
<g id="s4d2c1"><rect class="r" x="1923" y="3735" width="265" height="60" rx="5"/><text class="t"><tspan x="1931" y="3753">正视图、侧视图和俯视图分别是从几何体的正</tspan><tspan x="1931" y="3769">前方、正左方和正上方观察到有几何体的正投</tspan><tspan x="1931" y="3785">影图，它们都是平面图形。</tspan></text></g>
<g id="s4d2c2"><rect class="r" x="1923" y="3823" width="265" height="60" rx="5"/><text class="t"><tspan x="1931" y="3841">长方体的三视图都是长方形，正视图和侧视图</tspan><tspan x="1931" y="3857">、侧视图和俯视图、俯视图和正视图都各有一</tspan><tspan x="1931" y="3873">条边长相等。</tspan></text></g>
<g id="s4d2d"><rect class="r" x="1752" y="3911" width="171" height="28" rx="5"/><text class="t" x="1760" y="3929">4、画圆柱、圆锥的三视图：</text></g>
<g id="s4d2e"><rect class="r" x="1752" y="3967" width="265" height="44" rx="5"/><text class="t"><tspan x="1760" y="3985">5、探究：画出底面是正方形，侧面是全等的</tspan><tspan x="1760" y="4001">三角形的棱锥的三视图。</tspan></text></g>
<g id="s4d3"><rect class="r" x="1644" y="4040" width="84" height="27" rx="5"/><text class="t" x="1652" y="4058">(三)巩固练习</text></g>
<g id="s4d3a"><rect class="r" x="1752" y="4040" width="232" height="27" rx="5"/><text class="t" x="1760" y="4058">课本P15练习1、2;P20习题1.2[A组]2。</text></g>
<g id="s4d4"><rect class="r" x="1644" y="4096" width="84" height="27" rx="5"/><text class="t" x="1652" y="4114">(四)归纳整理</text></g>
<g id="s4d4a"><rect class="r" x="1752" y="4096" width="265" height="27" rx="5"/><text class="t" x="1760" y="4114">请学生回顾发表如何作好空间几何体的三视图</text></g>
<g id="s4d5"><rect class="r" x="1644" y="4152" width="84" height="27" rx="5"/><text class="t" x="1652" y="4170">(五)布置作业</text></g>
<g id="s4d5a"><rect class="r" x="1752" y="4152" width="153" height="27" rx="5"/><text class="t" x="1760" y="4170">课本P20习题1.2[A组]1。</text></g>

<g id="s5a"><rect class="g" x="672" y="3018" width="75" height="28" rx="5"/><text class="t" x="680" y="3036">教学目标：</text></g>
<g id="s5a1"><rect class="g" x="382" y="2945" width="266" height="45" rx="5"/><text class="t"><tspan x="390" y="2964">1、结合实际问题情景，理解分层抽样的必要</tspan><tspan x="390" y="2980">性和重要性;</tspan></text></g>
<g id="s5a2"><rect class="g" x="385" y="3018" width="264" height="28" rx="5"/><text class="t" x="393" y="3036">2、学会用分层抽样的方法从总体中抽取样本;</text></g>
<g id="s5a3"><rect class="g" x="382" y="3074" width="266" height="44" rx="5"/><text class="t"><tspan x="390" y="3092">3、并对简单随机抽样、系统抽样及分层抽样</tspan><tspan x="390" y="3108">方法进行比较，揭示其相互关系。</tspan></text></g>
<g id="s5b"><rect class="g" x="672" y="3146" width="75" height="28" rx="5"/><text class="t" x="680" y="3164">教学重点：</text></g>
<g id="s5b1"><rect class="g" x="458" y="3146" width="190" height="28" rx="5"/><text class="t" x="466" y="3164">通过实例理解分层抽样的方法。</text></g>
<g id="s5c"><rect class="g" x="672" y="3202" width="75" height="28" rx="5"/><text class="t" x="680" y="3220">教学难点：</text></g>
<g id="s5c1"><rect class="g" x="534" y="3202" width="114" height="28" rx="5"/><text class="t" x="542" y="3220">分层抽样的步骤。</text></g>
<g id="s5d"><rect class="g" x="672" y="3553" width="75" height="28" rx="5"/><text class="t" x="680" y="3571">教学过程：</text></g>
<g id="s5d1"><rect class="g" x="559" y="3306" width="89" height="29" rx="5"/><text class="t" x="567" y="3325">一、问题情境</text></g>
<g id="s5d1a"><rect class="g" x="270" y="3259" width="266" height="44" rx="5"/><text class="t"><tspan x="278" y="3277">1、复习简单随机抽样、系统抽样的概念、特</tspan><tspan x="278" y="3293">征以及适用范围。</tspan></text></g>
<g id="s5d1b"><rect class="g" x="270" y="3331" width="266" height="61" rx="5"/><text class="t"><tspan x="278" y="3350">2、实例：某校高一、高二和高三年级分别有</tspan><tspan x="278" y="3366">学生名，为了了解全校学生的视力情况，从中</tspan><tspan x="278" y="3382">抽取容量为的样本，怎样抽取较为合理?</tspan></text></g>
<g id="s5d2"><rect class="g" x="559" y="3561" width="89" height="29" rx="5"/><text class="t" x="567" y="3580">二、学生活动</text></g>
<g id="s5d2a"><rect class="g" x="270" y="3419" width="266" height="45" rx="5"/><text class="t"><tspan x="278" y="3438">能否用简单随机抽样或系统抽样进行抽样，为</tspan><tspan x="278" y="3454">什么?</tspan></text></g>
<g id="s5d2b"><rect class="g" x="270" y="3492" width="266" height="94" rx="5"/><text class="t"><tspan x="278" y="3511">指出由于不同年级的学生视力状况有一定的差</tspan><tspan x="278" y="3527">异，用简单随机抽样或系统抽样进行抽样不能</tspan><tspan x="278" y="3543">准确反映客观实际，在抽样时不仅要使每个个</tspan><tspan x="278" y="3559">体被抽到的机会相等，还要注意总体中个体的</tspan><tspan x="278" y="3575">层次性。</tspan></text></g>
<g id="s5d2c"><rect class="g" x="270" y="3613" width="266" height="45" rx="5"/><text class="t"><tspan x="278" y="3632">由于样本的容量与总体的个体数的比为100：</tspan><tspan x="278" y="3648">2500=1：25，</tspan></text></g>
<g id="s5d2d"><rect class="g" x="270" y="3686" width="266" height="44" rx="5"/><text class="t"><tspan x="278" y="3704">所以在各年级抽取的个体数依次是。即40，3</tspan><tspan x="278" y="3720">2，28。</tspan></text></g>
<g id="s5d3"><rect class="g" x="559" y="3799" width="89" height="29" rx="5"/><text class="t" x="567" y="3818">三、建构数学</text></g>
<g id="s5d3a"><rect class="g" x="270" y="3758" width="266" height="110" rx="5"/><text class="t"><tspan x="278" y="3777">1、分层抽样：当已知总体由差异明显的几部</tspan><tspan x="278" y="3793">分组成时，为了使样本更客观地反映总体的情</tspan><tspan x="278" y="3809">况，常将总体按不同的特点分成层次比较分明</tspan><tspan x="278" y="3825">的几部分，然后按各部分在总体中所占的比进</tspan><tspan x="278" y="3841">行抽样，这种抽样叫做分层抽样，其中所分成</tspan><tspan x="278" y="3857">的各部分叫"层"。</tspan></text></g>
<g id="s5e"><rect class="g" x="697" y="3973" width="50" height="28" rx="5"/><text class="t" x="705" y="3991">说明：</text></g>
<g id="s5e1"><rect class="g" x="408" y="3896" width="265" height="77" rx="5"/><text class="t"><tspan x="416" y="3915">①分层抽样时，由于各部分抽取的个体数与这</tspan><tspan x="416" y="3931">一部分个体数的比等于样本容量与总体的个体</tspan><tspan x="416" y="3947">数的比，每一个个体被抽到的可能性都是相等</tspan><tspan x="416" y="3963">的;</tspan></text></g>
<g id="s5e2"><rect class="g" x="408" y="4001" width="265" height="78" rx="5"/><text class="t"><tspan x="416" y="4020">②由于分层抽样充分利用了我们所掌握的信息</tspan><tspan x="416" y="4036">，使样本具有较好的代表性，而且在各层抽样</tspan><tspan x="416" y="4052">时可以根据具体情况采取不同的抽样方法，所</tspan><tspan x="416" y="4068">以分层抽样在实践中有着非常广泛的应用。</tspan></text></g>

<g id="r1"><rect class="b" x="1604" y="4210" width="182" height="28" rx="5"/><text class="t" x="1612" y="4229">★ 高一数学教案大全2021模板</text></g>
<g id="r2"><rect class="b" x="1604" y="4266" width="203" height="28" rx="5"/><text class="t" x="1612" y="4285">★ 最新高一数学教案教学方法范文</text></g>
<g id="r3"><rect class="b" x="1604" y="4322" width="210" height="28" rx="5"/><text class="t" x="1612" y="4341">★ 高一数学教案的三维目标5篇最新</text></g>
<g id="r4"><rect class="b" x="1604" y="4378" width="177" height="28" rx="5"/><text class="t" x="1612" y="4397">★ 最新高一数学教案课件文案</text></g>
<g id="r5"><rect class="b" x="1604" y="4434" width="216" height="28" rx="5"/><text class="t" x="1612" y="4453">★ 高一数学教案大全人教版最新文案</text></g>
<g id="r6"><rect class="b" x="1604" y="4491" width="207" height="28" rx="5"/><text class="t" x="1612" y="4510">★ 高一数学教案免费下载2021最新</text></g>
<g id="r7"><rect class="b" x="1604" y="4547" width="235" height="28" rx="5"/><text class="t" x="1612" y="4566">★ 高一数学教案集合之间的关系5篇最新</text></g>
<g id="r8"><rect class="b" x="1604" y="4603" width="172" height="28" rx="5"/><text class="t" x="1612" y="4622">★ 高一数学教案方差5篇最新</text></g>
<g id="r9"><rect class="b" x="1604" y="4659" width="177" height="28" rx="5"/><text class="t" x="1612" y="4678">★ 高一数学教案模板最新例文</text></g>
<g id="r10"><rect class="b" x="1604" y="4715" width="233" height="28" rx="5"/><text class="t" x="1612" y="4734">★ 人教版高一数学下册知识点总结2021</text></g>
</g>
</svg>
